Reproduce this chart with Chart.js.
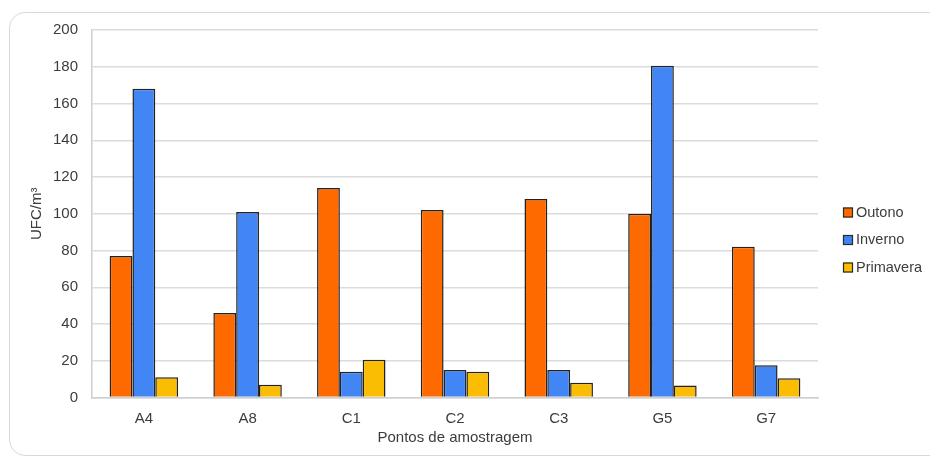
<!DOCTYPE html>
<html>
<head>
<meta charset="utf-8">
<script src="https://cdn.jsdelivr.net/npm/chart.js@4/dist/chart.umd.min.js"></script>
<style>
  html, body { margin: 0; padding: 0; background: #fff; }
  body { width: 930px; height: 459px; position: relative; overflow: hidden; }
  .card {
    position: absolute; left: 9px; top: 12px; width: 960px; height: 444px;
    border: 1.5px solid #d8d8d8; border-radius: 16px; box-sizing: border-box;
  }
  #wrap { position: absolute; left: 0; top: 0; width: 930px; height: 459px; }
</style>
</head>
<body>
<div class="card"></div>
<div id="wrap"><canvas id="c" width="930" height="459"></canvas></div>
<script>
// Sampling points and seasonal counts (UFC/m³)
const categories = ['A4', 'A8', 'C1', 'C2', 'C3', 'G5', 'G7'];
const outono     = [77, 46, 114, 102, 108, 100, 82];
const inverno    = [168, 101, 14, 15, 15, 180.5, 17.5];
const primavera  = [11, 7, 20.5, 14, 8, 6.5, 10.5];
const seriesNames = ['Outono', 'Inverno', 'Primavera'];
const yTicks = [0, 20, 40, 60, 80, 100, 120, 140, 160, 180, 200];

const colors = ['#ff6a00', '#4285f4', '#fbbc04'];
const FONT = "'Liberation Sans', Arial, sans-serif";
const TEXT = '#3c3c3c';

// Legend drawn at the right of the plot, square swatches with dark outline
const sideLegend = {
  id: 'sideLegend',
  afterDraw(chart) {
    const ctx = chart.ctx;
    const x = 843, y0 = 212.5, step = 27.5, box = 10;
    ctx.save();
    ctx.font = '14.5px ' + FONT;
    ctx.textBaseline = 'middle';
    chart.data.datasets.forEach((ds, i) => {
      const y = y0 + i * step;
      ctx.fillStyle = ds.backgroundColor;
      ctx.fillRect(x, y - box / 2, box, box);
      ctx.strokeStyle = '#2a2a2a';
      ctx.lineWidth = 1.2;
      ctx.strokeRect(x + 0.5, y - box / 2 + 0.5, box - 1, box - 1);
      ctx.fillStyle = TEXT;
      ctx.fillText(ds.label, x + 13, y);
    });
    ctx.restore();
  }
};

const seriesData = [outono, inverno, primavera];

new Chart(document.getElementById('c'), {
  type: 'bar',
  data: {
    labels: categories,
    datasets: seriesData.map((d, i) => ({
      label: seriesNames[i],
      data: d,
      backgroundColor: colors[i],
      borderColor: '#222',
      borderWidth: 1.5,
      categoryPercentage: 0.66,
      barPercentage: 1.0
    }))
  },
  options: {
    responsive: false,
    animation: false,
    devicePixelRatio: 1,
    layout: { padding: { left: 10, top: 30, right: 112, bottom: 12 } },
    plugins: {
      legend: { display: false },
      tooltip: { enabled: false }
    },
    scales: {
      x: {
        grid: { display: false, drawTicks: false },
        border: { display: true, color: '#cfcfcf', width: 1.5 },
        ticks: { color: TEXT, font: { family: FONT, size: 15 }, padding: 12 },
        title: {
          display: true, text: 'Pontos de amostragem', color: TEXT,
          font: { family: FONT, size: 15 }, padding: { top: 4, bottom: 0 }
        },
        afterFit(scale) { scale.height = 49.5; }
      },
      y: {
        min: 0, max: 200,
        afterBuildTicks(scale) { scale.ticks = yTicks.map(v => ({ value: v })); },
        grid: { color: '#dcdcdc', lineWidth: 1.5, drawTicks: false },
        border: { display: true, color: '#cfcfcf', width: 1.5 },
        ticks: { color: TEXT, font: { family: FONT, size: 15 }, padding: 14 },
        title: {
          display: true, text: 'UFC/m³', color: TEXT,
          font: { family: FONT, size: 15 }, padding: { top: 18, bottom: 0 }
        },
        afterFit(scale) { scale.width = 82; }
      }
    }
  },
  plugins: [sideLegend]
});
</script>
</body>
</html>
